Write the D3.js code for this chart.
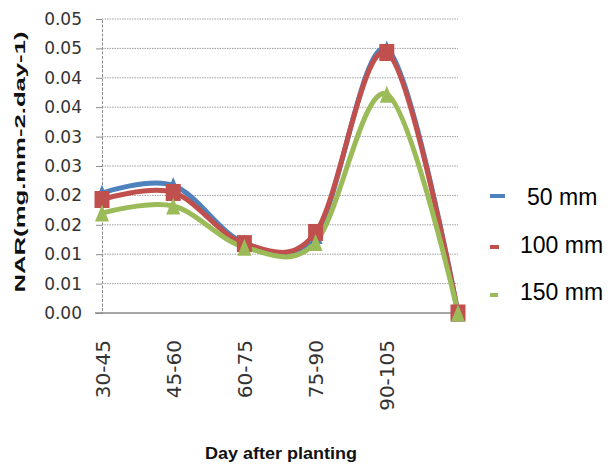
<!DOCTYPE html>
<html>
<head>
<meta charset="utf-8">
<script src="https://cdn.jsdelivr.net/npm/d3@7/dist/d3.min.js"></script>
<style>
  html, body { margin: 0; padding: 0; background: #fff; }
  svg { display: block; }
</style>
</head>
<body>
<script>
// ---- data ----
const categories = ["30-45", "45-60", "60-75", "75-90", "90-105", ""];
const seriesNames = ["50 mm", "100 mm", "150 mm"];
const values50  = [0.0204, 0.0217, 0.0119, 0.0132, 0.0449, 0.0000];
const values100 = [0.0193, 0.0205, 0.0118, 0.0137, 0.0443, 0.0000];
const values150 = [0.0170, 0.0182, 0.0112, 0.0120, 0.0372, 0.0000];
const yTicks = [0, 0.005, 0.01, 0.015, 0.02, 0.025, 0.03, 0.035, 0.04, 0.045, 0.05];
const yTickLabels = ["0.00", "0.01", "0.01", "0.02", "0.02", "0.03", "0.03", "0.04", "0.04", "0.05", "0.05"];

const W = 611, H = 466;
const svg = d3.select("body").append("svg").attr("width", W).attr("height", H);

const x = d3.scalePoint().domain(d3.range(categories.length)).range([102, 458]);
const y = d3.scaleLinear().domain([0, 0.05]).range([313, 19]);

// gridlines
svg.append("g").selectAll("line").data(yTicks.slice(1)).join("line")
  .attr("x1", 102).attr("x2", 458)
  .attr("y1", d => y(d)).attr("y2", d => y(d))
  .attr("stroke", "#a0a0a0").attr("stroke-width", 1).attr("stroke-dasharray", "1.5,1");

// y axis
const yAxis = d3.axisLeft(y).tickValues(yTicks).tickFormat((d, i) => yTickLabels[i]).tickSize(6).tickPadding(14);
const gy = svg.append("g").attr("transform", "translate(102,0)").call(yAxis);
gy.select(".domain").attr("stroke", "#8a8a8a").attr("stroke-dasharray", "3,1.5");
gy.selectAll(".tick line").attr("stroke", "#8a8a8a");
gy.selectAll(".tick text").attr("font-family", "DejaVu Sans, sans-serif").attr("font-size", 17).attr("fill", "#333");

// x axis
const xAxis = d3.axisBottom(x).tickFormat(i => categories[i]).tickSize(0).tickPadding(27);
const gx = svg.append("g").attr("transform", "translate(0,313)").call(xAxis);
gx.select(".domain").attr("stroke", "#8a8a8a").attr("stroke-width", 1.5).attr("d", "M95,0H458");
gx.selectAll(".tick text")
  .attr("font-family", "DejaVu Sans, sans-serif").attr("font-size", 20).attr("fill", "#333")
  .attr("transform", "rotate(-90)").attr("text-anchor", "end")
  .attr("x", -27).attr("y", 0).attr("dy", "0.35em");

// series
const colors = ["#4F81BD", "#C0504D", "#9BBB59"];
const seriesVals = [values50, values100, values150];
const line = d3.line().x((d, i) => x(i)).y(d => y(d)).curve(d3.curveCatmullRom.alpha(0));

seriesVals.forEach((vals, s) => {
  svg.append("path").datum(vals).attr("d", line)
    .attr("fill", "none").attr("stroke", colors[s]).attr("stroke-width", 5)
    .attr("stroke-linecap", "round");
});
seriesVals.forEach((vals, s) => {
  const g = svg.append("g");
  if (s === 1) {
    g.selectAll("rect").data(vals).join("rect")
      .attr("x", (d, i) => x(i) - 7.5).attr("y", d => y(d) - 8.5)
      .attr("width", 15).attr("height", 17).attr("fill", colors[s]);
  } else {
    g.selectAll("path").data(vals).join("path")
      .attr("d", (d, i) => {
        const cx = x(i), cy = y(d);
        return `M${cx},${cy - 8.5}L${cx + 7},${cy + 8.5}L${cx - 7},${cy + 8.5}Z`;
      })
      .attr("fill", colors[s]);
  }
});

// legend
const legendY = [196, 247, 295];
const legendLen = [15, 9, 8];
const legendTextX = [527, 520, 520];
const legendBase = [205, 253, 300];
seriesNames.forEach((name, s) => {
  svg.append("line").attr("x1", 490).attr("x2", 490 + legendLen[s])
    .attr("y1", legendY[s]).attr("y2", legendY[s])
    .attr("stroke", colors[s]).attr("stroke-width", 4);
  svg.append("text").attr("x", legendTextX[s]).attr("y", legendBase[s])
    .attr("font-family", "Liberation Sans, Arial, sans-serif").attr("font-size", 23)
    .attr("fill", "#000").text(name);
});

// axis titles
svg.append("text")
  .attr("transform", "translate(25,162) rotate(-90)")
  .attr("text-anchor", "middle")
  .attr("font-family", "Liberation Sans, Arial, sans-serif").attr("font-weight", "bold")
  .attr("font-size", 14).attr("fill", "#111")
  .attr("textLength", 261).attr("lengthAdjust", "spacingAndGlyphs")
  .text("NAR(mg.mm-2.day-1)");

svg.append("text")
  .attr("x", 281).attr("y", 459)
  .attr("text-anchor", "middle")
  .attr("font-family", "Liberation Sans, Arial, sans-serif").attr("font-weight", "bold")
  .attr("font-size", 16).attr("fill", "#111")
  .attr("textLength", 152).attr("lengthAdjust", "spacingAndGlyphs")
  .text("Day after planting");
</script>
</body>
</html>
